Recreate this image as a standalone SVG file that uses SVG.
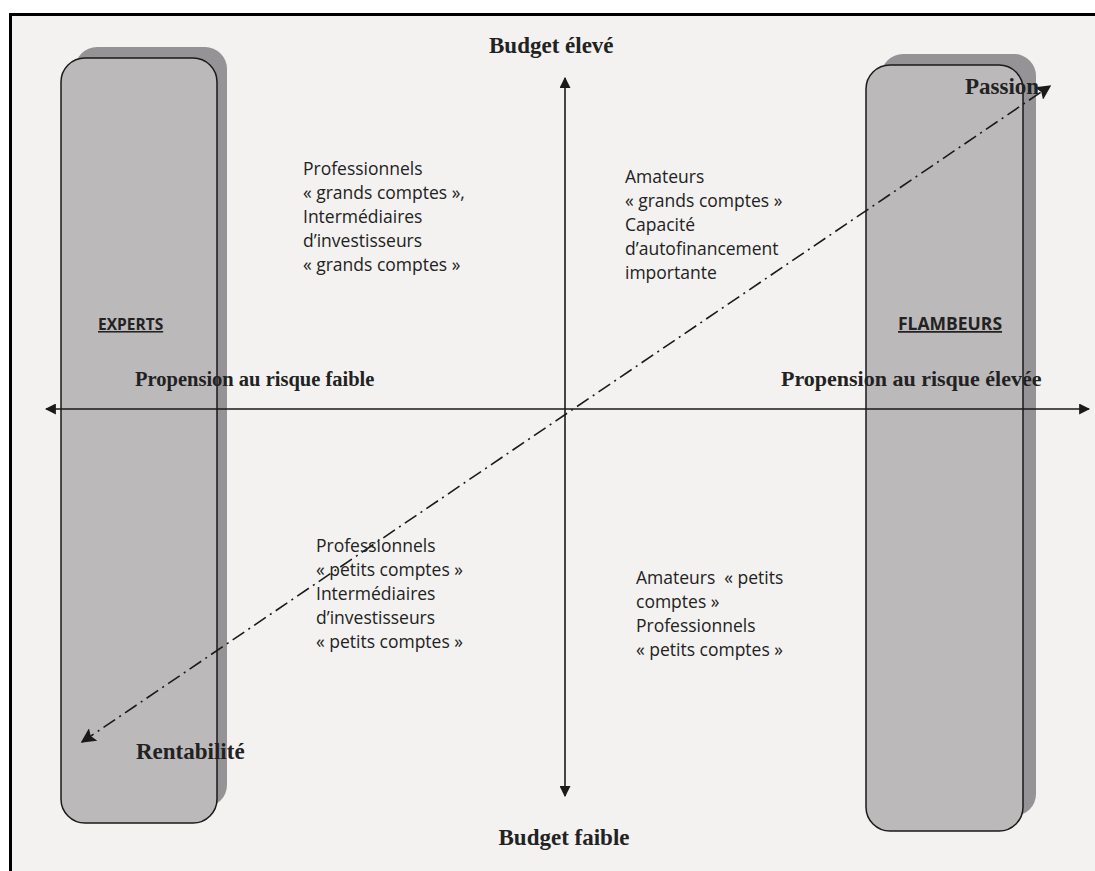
<svg xmlns="http://www.w3.org/2000/svg" width="1095" height="871" viewBox="0 0 1095 871">
<defs>
<style>
.shadow{fill:#959395}
.front{fill:#bcb9bb;stroke:#1a1a1a;stroke-width:1.5}
.axis{stroke:#1a1a1a;stroke-width:1.6;fill:none}
.diag{stroke:#1a1a1a;stroke-width:1.6;fill:none;stroke-dasharray:14 5 2 5}
.title{font-family:"Liberation Serif",serif;font-weight:bold;fill:#222}
.body{font-family:"Open Sans","Liberation Sans",sans-serif;font-size:17.5px;fill:#222}
.lab{font-family:"Open Sans","Liberation Sans",sans-serif;font-weight:bold;fill:#222;text-decoration:underline}
</style>
<marker id="ah" viewBox="0 0 10 10" refX="9" refY="5" markerWidth="11" markerHeight="11" markerUnits="userSpaceOnUse" orient="auto-start-reverse">
<path d="M0,0 L10,5 L0,10 z" fill="#1a1a1a"/>
</marker>
<marker id="ah2" viewBox="0 0 10 10" refX="9" refY="5" markerWidth="15" markerHeight="15" markerUnits="userSpaceOnUse" orient="auto-start-reverse">
<path d="M0,0 L10,5 L0,10 L2,5 z" fill="#1a1a1a"/>
</marker>
</defs>
<rect x="0" y="0" width="1095" height="871" fill="#ffffff"/>
<rect x="10.5" y="14.5" width="1086" height="858" fill="#f3f2f0" stroke="#000" stroke-width="3"/>

<g id="experts">
<rect class="shadow" x="75" y="47" width="152" height="760" rx="22"/>
<rect class="front" x="61" y="58" width="156" height="765" rx="24"/>
<text class="lab" x="98" y="330" font-size="15.5">EXPERTS</text>
</g>
<g id="flambeurs">
<rect class="shadow" x="881" y="54" width="155" height="762" rx="22"/>
<rect class="front" x="866" y="65" width="157" height="766" rx="24"/>
<text class="lab" x="898" y="330" font-size="17.5">FLAMBEURS</text>
</g>

<g id="connectors">
<line class="axis" x1="565" y1="796" x2="565" y2="78" marker-start="url(#ah)" marker-end="url(#ah)"/>
<line class="axis" x1="46" y1="409" x2="1089" y2="409" marker-start="url(#ah)" marker-end="url(#ah)"/>
<line class="diag" x1="82" y1="742" x2="1050" y2="86" marker-start="url(#ah2)" marker-end="url(#ah2)"/>
</g>

<g id="labels">
<text class="title" x="489" y="53" font-size="23">Budget élevé</text>
<text class="title" x="564" y="845" font-size="23" text-anchor="middle">Budget faible</text>
<text class="title" x="135" y="386" font-size="20.5">Propension au risque faible</text>
<text class="title" x="781" y="386" font-size="22">Propension au risque élevée</text>
<text class="title" x="965" y="94" font-size="23">Passion</text>
<text class="title" x="136" y="759" font-size="23">Rentabilité</text>
</g>

<g id="q-top-left">
<text class="body" x="303" y="175">Professionnels</text>
<text class="body" x="303" y="199">« grands comptes »,</text>
<text class="body" x="303" y="223">Intermédiaires</text>
<text class="body" x="303" y="247">d’investisseurs</text>
<text class="body" x="303" y="271">« grands comptes »</text>
</g>
<g id="q-top-right">
<text class="body" x="625" y="183">Amateurs</text>
<text class="body" x="625" y="207">« grands comptes »</text>
<text class="body" x="625" y="231">Capacité</text>
<text class="body" x="625" y="255">d’autofinancement</text>
<text class="body" x="625" y="279">importante</text>
</g>
<g id="q-bottom-left">
<text class="body" x="316" y="552">Professionnels</text>
<text class="body" x="316" y="576">« petits comptes »</text>
<text class="body" x="316" y="600">Intermédiaires</text>
<text class="body" x="316" y="624">d’investisseurs</text>
<text class="body" x="316" y="648">« petits comptes »</text>
</g>
<g id="q-bottom-right">
<text class="body" x="636" y="584" font-size="16.5" xml:space="preserve">Amateurs  « petits</text>
<text class="body" x="636" y="608" font-size="16.5">comptes »</text>
<text class="body" x="636" y="632" font-size="16.5">Professionnels</text>
<text class="body" x="636" y="656" font-size="16.5">« petits comptes »</text>
</g>
</svg>
